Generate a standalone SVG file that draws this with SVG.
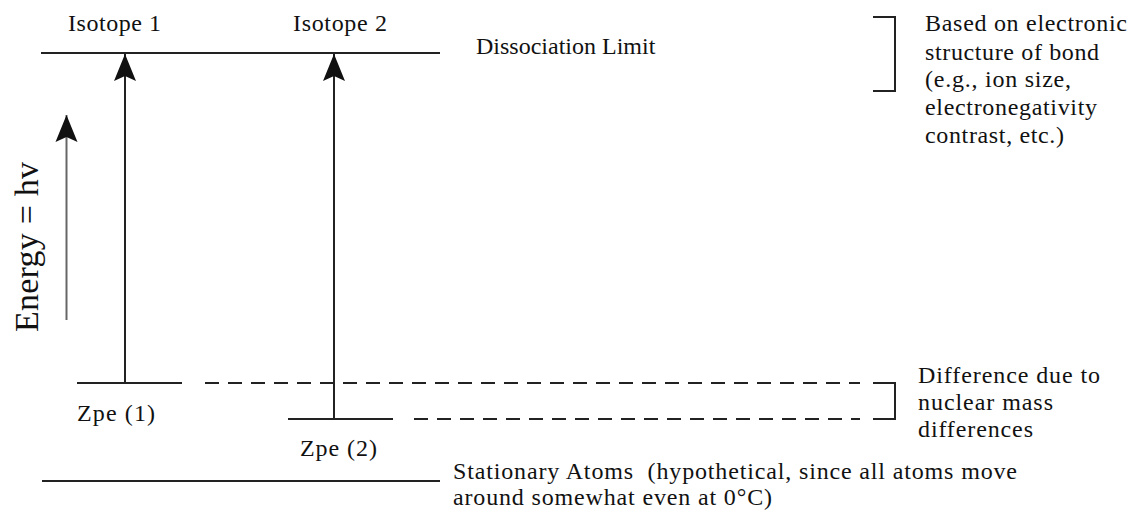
<svg xmlns="http://www.w3.org/2000/svg" width="1130" height="510" viewBox="0 0 1130 510">
<style>
.t{font-family:'Liberation Serif','DejaVu Serif',serif;font-size:24px;fill:#111}
.ln{stroke:#222;stroke-width:2;fill:none}
.ds{stroke:#222;stroke-width:2;fill:none;stroke-dasharray:14 9}
</style>
<defs>
<marker id="ah" markerUnits="userSpaceOnUse" viewBox="-28 -12 29 24" refX="0" refY="0" markerWidth="29" markerHeight="24" orient="auto">
<path d="M0,0 L-27,-11 L-22,0 L-27,11 Z" fill="#111"/>
</marker>
</defs>
<rect width="1130" height="510" fill="#fff"/>
<g id="levels">
<line class="ln" x1="41" y1="53" x2="440" y2="53"/>
<line class="ln" x1="77" y1="383" x2="182" y2="383"/>
<line class="ln" x1="288" y1="419" x2="393" y2="419"/>
<line class="ln" x1="42" y1="481" x2="440" y2="481"/>
</g>
<g id="connectors">
<line class="ln" x1="125" y1="383" x2="125" y2="54" marker-end="url(#ah)"/>
<line class="ln" x1="334" y1="419" x2="334" y2="54" marker-end="url(#ah)"/>
<line x1="66.5" y1="320" x2="66.5" y2="115" stroke="#666" stroke-width="2" marker-end="url(#ah)"/>
<line class="ds" x1="205" y1="383" x2="860" y2="383"/>
<line class="ds" x1="414" y1="419" x2="860" y2="419"/>
<path class="ln" d="M873,17 H895 V91 H873"/>
<path class="ln" d="M873,383 H895 V419 H873"/>
</g>
<g id="labels">
<text class="t" x="68" y="31" textLength="93" lengthAdjust="spacing">Isotope 1</text>
<text class="t" x="293" y="31" textLength="94" lengthAdjust="spacing">Isotope 2</text>
<text class="t" x="476" y="54">Dissociation Limit</text>
<text class="t" x="925" y="31" textLength="202" lengthAdjust="spacing">Based on electronic</text>
<text class="t" x="925" y="60" textLength="174" lengthAdjust="spacing">structure of bond</text>
<text class="t" x="925" y="87" textLength="146" lengthAdjust="spacing">(e.g., ion size,</text>
<text class="t" x="925" y="115" textLength="172" lengthAdjust="spacing">electronegativity</text>
<text class="t" x="925" y="143" textLength="139" lengthAdjust="spacing">contrast, etc.)</text>
<text class="t" transform="translate(38,332) rotate(-90)" style="font-size:34px" textLength="170" lengthAdjust="spacing">Energy = hv</text>
<text class="t" x="77" y="421" textLength="78" lengthAdjust="spacing">Zpe (1)</text>
<text class="t" x="300" y="456" textLength="77" lengthAdjust="spacing">Zpe (2)</text>
<text class="t" x="918" y="383" textLength="182" lengthAdjust="spacing">Difference due to</text>
<text class="t" x="918" y="410" textLength="135" lengthAdjust="spacing">nuclear mass</text>
<text class="t" x="918" y="437" textLength="115" lengthAdjust="spacing">differences</text>
<text class="t" x="453" y="479" xml:space="preserve" textLength="564" lengthAdjust="spacing">Stationary Atoms  (hypothetical, since all atoms move</text>
<text class="t" x="453" y="505" textLength="319" lengthAdjust="spacing">around somewhat even at 0°C)</text>
</g>
</svg>
